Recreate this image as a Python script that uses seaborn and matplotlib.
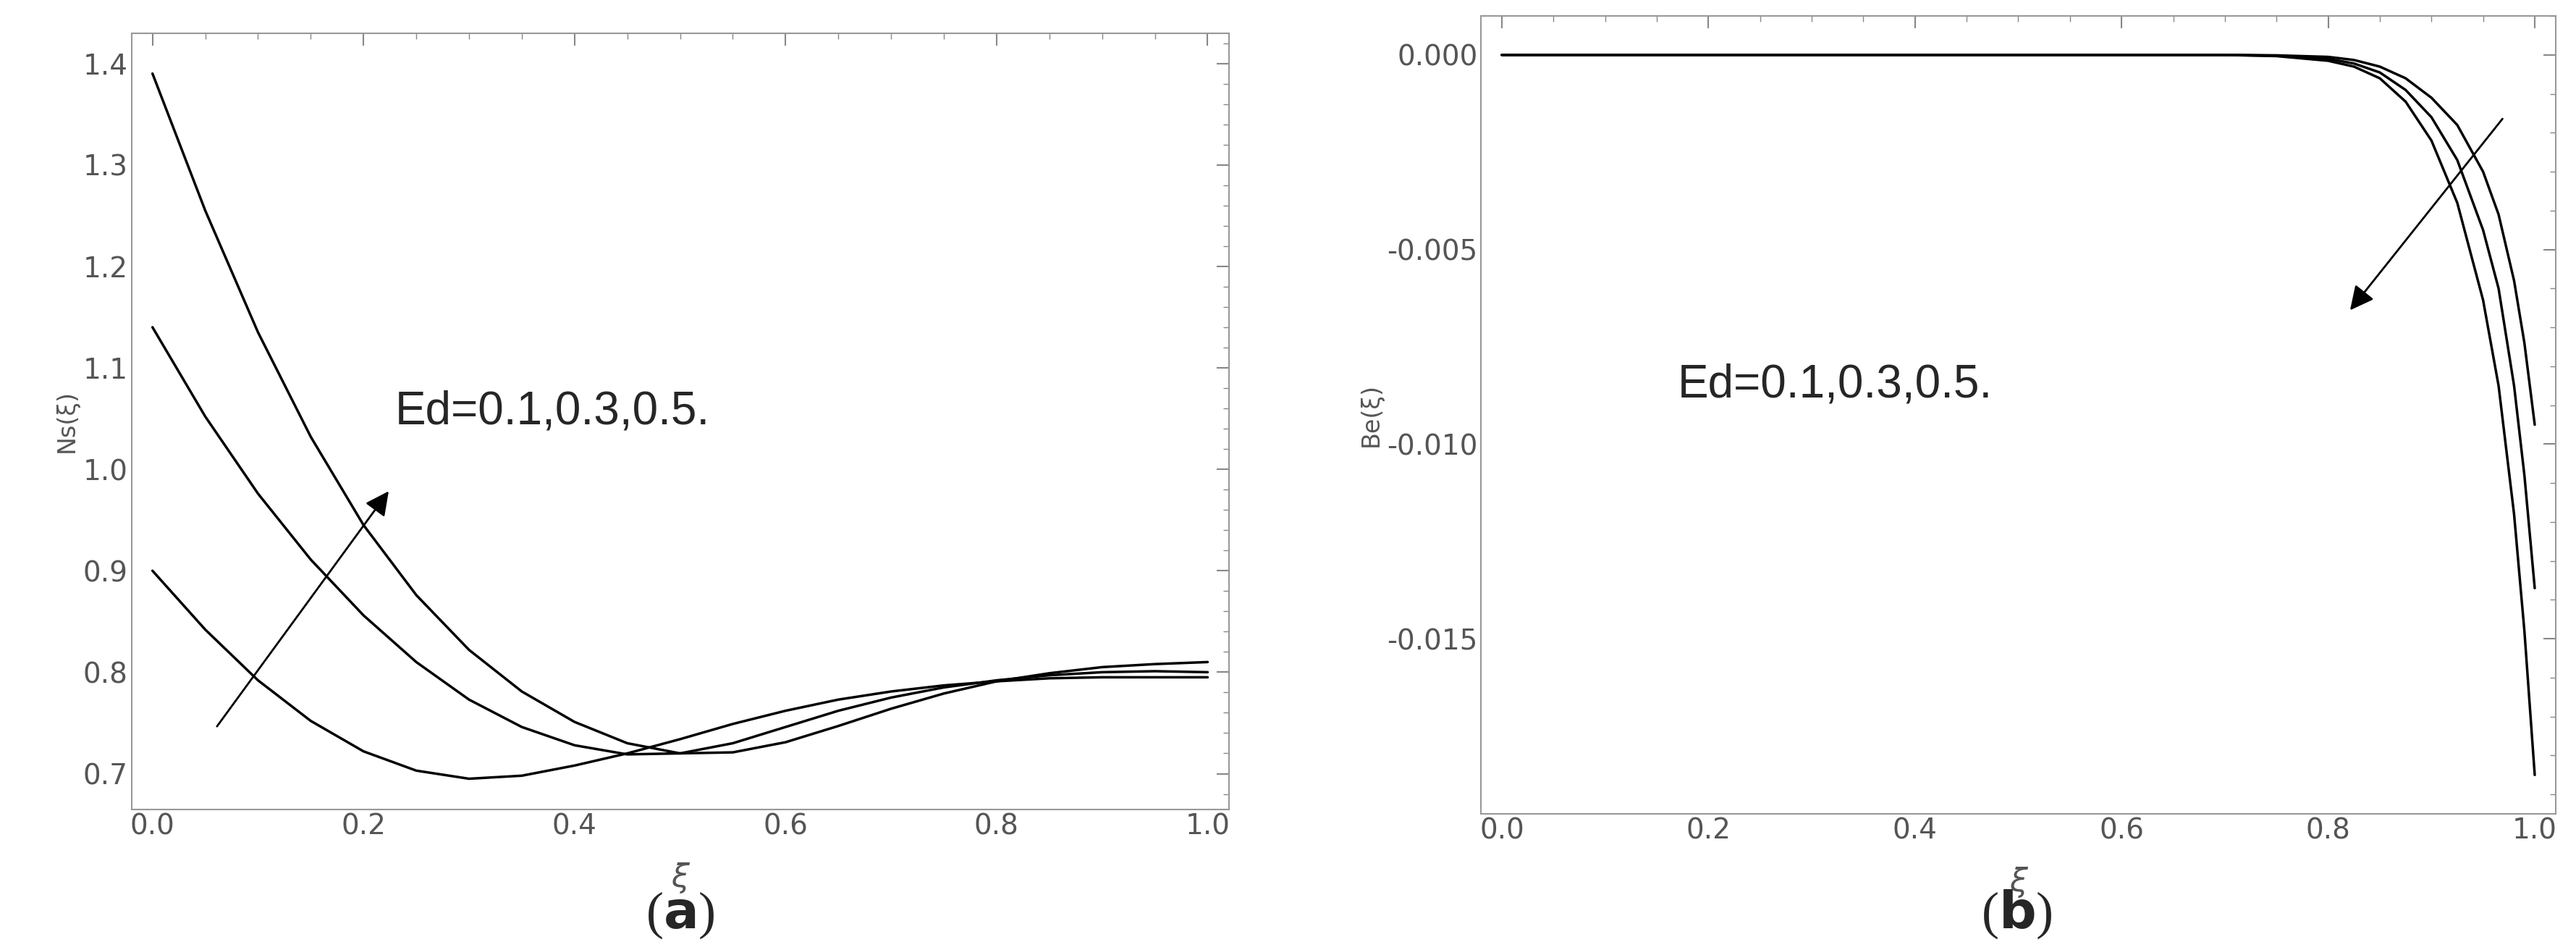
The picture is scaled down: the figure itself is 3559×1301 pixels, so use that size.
import matplotlib.pyplot as plt
import seaborn as sns
import pandas as pd
from matplotlib.ticker import AutoMinorLocator

# panel (a): Ns(xi)
xi_a = [0.0, 0.05, 0.1, 0.15, 0.2, 0.25, 0.3, 0.35, 0.4, 0.45, 0.5, 0.55, 0.6, 0.65, 0.7, 0.75, 0.8, 0.85, 0.9, 0.95, 1.0]
ns_1 = [1.39, 1.255, 1.135, 1.032, 0.945, 0.876, 0.822, 0.781, 0.751, 0.73, 0.72, 0.721, 0.731, 0.747, 0.764, 0.779, 0.791, 0.799, 0.805, 0.808, 0.81]
ns_2 = [1.14, 1.052, 0.976, 0.911, 0.856, 0.81, 0.773, 0.746, 0.728, 0.719, 0.72, 0.73, 0.746, 0.762, 0.775, 0.785, 0.792, 0.797, 0.80, 0.801, 0.80]
ns_3 = [0.90, 0.842, 0.792, 0.752, 0.722, 0.703, 0.695, 0.698, 0.708, 0.72, 0.734, 0.749, 0.762, 0.773, 0.781, 0.787, 0.791, 0.794, 0.795, 0.795, 0.795]

# panel (b): Be(xi)
xi_b = [0.0, 0.1, 0.2, 0.3, 0.4, 0.5, 0.6, 0.7, 0.75, 0.8, 0.825, 0.85, 0.875, 0.9, 0.925, 0.95, 0.965, 0.98, 0.99, 1.0]
be_1 = [0, 0, 0, 0, 0, 0, 0, 0, -0.00001, -0.00005, -0.00013, -0.0003, -0.0006, -0.0011, -0.0018, -0.003, -0.0041, -0.0058, -0.0074, -0.0095]
be_2 = [0, 0, 0, 0, 0, 0, 0, 0, -0.00002, -0.0001, -0.00022, -0.00045, -0.0009, -0.0016, -0.0027, -0.0045, -0.006, -0.0085, -0.0108, -0.0137]
be_3 = [0, 0, 0, 0, 0, 0, 0, 0, -0.00003, -0.00015, -0.0003, -0.0006, -0.0012, -0.0022, -0.0038, -0.0063, -0.0085, -0.0118, -0.0148, -0.0185]

n_a, n_b = len(xi_a), len(xi_b)
df_a = pd.DataFrame({"xi": xi_a * 3, "v": ns_1 + ns_2 + ns_3, "s": ["1"] * n_a + ["2"] * n_a + ["3"] * n_a})
df_b = pd.DataFrame({"xi": xi_b * 3, "v": be_1 + be_2 + be_3, "s": ["1"] * n_b + ["2"] * n_b + ["3"] * n_b})

sns.set_style("white")
plt.rcParams["font.family"] = ["DejaVu Sans"]
fig = plt.figure(figsize=(35.59, 13.01), dpi=100)
ax1 = fig.add_axes([0.051, 0.141, 0.426, 0.824])
ax2 = fig.add_axes([0.575, 0.136, 0.417, 0.847])

pal = ["black"] * 3
sns.lineplot(data=df_a, x="xi", y="v", hue="s", palette=pal, legend=False, ax=ax1, lw=2.5)
sns.lineplot(data=df_b, x="xi", y="v", hue="s", palette=pal, legend=False, ax=ax2, lw=2.5)

ax1.set_xlim(-0.02, 1.02)
ax1.set_ylim(0.665, 1.43)
ax2.set_xlim(-0.02, 1.02)
ax2.set_ylim(-0.0195, 0.001)
ax1.set_ylabel("Ns(ξ)", color="#555555", fontsize=24)
ax2.set_ylabel("Be(ξ)", color="#555555", fontsize=24)
for ax in (ax1, ax2):
    ax.set_xlabel("ξ", color="#555555", fontsize=32, style="italic", labelpad=22)
    ax.set_xticks([0.0, 0.2, 0.4, 0.6, 0.8, 1.0])
    ax.xaxis.set_minor_locator(AutoMinorLocator(4))
    ax.yaxis.set_minor_locator(AutoMinorLocator(5))
    ax.tick_params(which="both", direction="in", top=True, right=True, colors="#888888", labelcolor="#555555", labelsize=28)
    ax.tick_params(which="major", length=12, width=1.5)
    ax.tick_params(which="minor", length=6, width=1)
    for sp in ax.spines.values():
        sp.set_color("#999999")
        sp.set_linewidth(1.5)
ax1.set_yticks([0.7, 0.8, 0.9, 1.0, 1.1, 1.2, 1.3, 1.4])
ax1.yaxis.set_major_formatter(plt.FormatStrFormatter("%.1f"))
ax2.set_yticks([0.0, -0.005, -0.010, -0.015])
ax2.yaxis.set_major_formatter(plt.FormatStrFormatter("%.3f"))
ax1.xaxis.set_major_formatter(plt.FormatStrFormatter("%.1f"))
ax2.xaxis.set_major_formatter(plt.FormatStrFormatter("%.1f"))

ax1.annotate("", xy=(0.225, 0.98), xytext=(0.06, 0.745),
             arrowprops=dict(arrowstyle="-|>", color="black", lw=2, mutation_scale=50))
ax1.text(0.23, 1.045, "Ed=0.1,0.3,0.5.", fontsize=46, family="Liberation Sans")
ax2.annotate("", xy=(0.82, -0.0066), xytext=(0.97, -0.0016),
             arrowprops=dict(arrowstyle="-|>", color="black", lw=2, mutation_scale=50))
ax2.text(0.17, -0.0088, "Ed=0.1,0.3,0.5.", fontsize=46, family="Liberation Sans")

fig.text(0.264, 0.015, r"($\mathbf{a}$)", ha="center", fontsize=52, family="Liberation Serif")
fig.text(0.783, 0.015, r"($\mathbf{b}$)", ha="center", fontsize=52, family="Liberation Serif")
fig.savefig("out.png", dpi=100)
